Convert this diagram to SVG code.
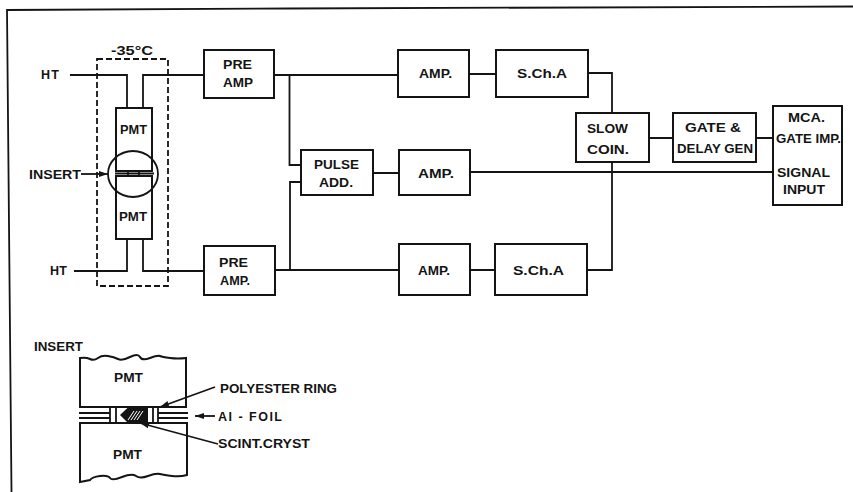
<svg xmlns="http://www.w3.org/2000/svg" width="853" height="492" viewBox="0 0 853 492">
<style>
.b{fill:#fff;stroke:#141414;stroke-width:2}
.c{fill:none;stroke:#141414;stroke-width:1.8}
.t{font-family:"Liberation Sans",Arial,sans-serif;font-size:12.500px;font-weight:700;fill:#141414;text-anchor:start}
</style>
<defs>
<marker id="a" markerWidth="10" markerHeight="7" refX="9" refY="3.500" orient="auto" markerUnits="userSpaceOnUse"><path d="M0 .5L9 3.500L0 6.500Z" fill="#141414"/></marker>
</defs>
<rect width="853" height="492" fill="#fff"/>
<path id="frame" class="c" d="M853 6.500L290 8.500L7 10L11.500 492"/>
<path id="cold-box" class="c" stroke-dasharray="6 3" d="M97 59H168V286H97Z"/>
<text class="t" x="111" y="55" textLength="42" lengthAdjust="spacingAndGlyphs">-35°C</text>
<text class="t" x="41" y="79" textLength="18" lengthAdjust="spacing">HT</text>
<text class="t" x="50" y="275" textLength="17" lengthAdjust="spacing">HT</text>
<text class="t" x="29" y="179" textLength="52" lengthAdjust="spacingAndGlyphs">INSERT</text>
<g id="pmt-top"><rect class="b" x="116" y="108" width="36" height="63"/><text class="t" x="120" y="134" textLength="27" lengthAdjust="spacingAndGlyphs">PMT</text></g>
<g id="pmt-bottom"><rect class="b" x="116" y="176" width="36" height="63"/><text class="t" x="119" y="221" textLength="28" lengthAdjust="spacingAndGlyphs">PMT</text></g>
<g id="insert-circle"><ellipse class="c" cx="133" cy="174" rx="25" ry="23" stroke-width="1.400"/><path class="c" stroke-width="1.200" d="M115 173.500H154M128 171.500V175.500M139 171.500V175.500"/></g>
<g id="preamp-top"><rect class="b" x="204" y="50" width="70" height="48"/><text class="t" x="223" y="69" textLength="29" lengthAdjust="spacingAndGlyphs">PRE</text><text class="t" x="223" y="87" textLength="30" lengthAdjust="spacingAndGlyphs">AMP</text></g>
<g id="preamp-bottom"><rect class="b" x="204" y="246" width="71" height="49"/><text class="t" x="219" y="267" textLength="29" lengthAdjust="spacingAndGlyphs">PRE</text><text class="t" x="220" y="285" textLength="30" lengthAdjust="spacingAndGlyphs">AMP.</text></g>
<g id="amp-top"><rect class="b" x="398" y="50" width="71" height="47"/><text class="t" x="419" y="78" textLength="33" lengthAdjust="spacingAndGlyphs">AMP.</text></g>
<g id="scha-top"><rect class="b" x="496" y="50" width="92" height="47"/><text class="t" x="517" y="78" textLength="50" lengthAdjust="spacingAndGlyphs">S.Ch.A</text></g>
<g id="pulse-add"><rect class="b" x="301" y="150" width="72" height="45"/><text class="t" x="314" y="169" textLength="45" lengthAdjust="spacingAndGlyphs">PULSE</text><text class="t" x="319" y="187" textLength="34" lengthAdjust="spacingAndGlyphs">ADD.</text></g>
<g id="amp-mid"><rect class="b" x="399" y="150" width="71" height="45"/><text class="t" x="418" y="178" textLength="36" lengthAdjust="spacingAndGlyphs">AMP.</text></g>
<g id="amp-bottom"><rect class="b" x="399" y="244" width="71" height="51"/><text class="t" x="418" y="275" textLength="32" lengthAdjust="spacingAndGlyphs">AMP.</text></g>
<g id="scha-bottom"><rect class="b" x="495" y="244" width="92" height="51"/><text class="t" x="513" y="275" textLength="51" lengthAdjust="spacingAndGlyphs">S.Ch.A</text></g>
<g id="slow-coin"><rect class="b" x="576" y="113" width="73" height="49"/><text class="t" x="587" y="133" textLength="41" lengthAdjust="spacingAndGlyphs">SLOW</text><text class="t" x="587" y="154" textLength="42" lengthAdjust="spacingAndGlyphs">COIN.</text></g>
<g id="gate-delay"><rect class="b" x="673" y="113" width="83" height="49"/><text class="t" x="685" y="132" textLength="56" lengthAdjust="spacingAndGlyphs">GATE &amp;</text><text class="t" x="677" y="153" textLength="76" lengthAdjust="spacingAndGlyphs">DELAY GEN</text></g>
<g id="mca"><rect class="b" x="773" y="106" width="69" height="99"/><text class="t" x="788" y="122" textLength="37" lengthAdjust="spacingAndGlyphs">MCA.</text><text class="t" x="776" y="143" textLength="65" lengthAdjust="spacingAndGlyphs">GATE IMP.</text><text class="t" x="777" y="177" textLength="53" lengthAdjust="spacingAndGlyphs">SIGNAL</text><text class="t" x="783" y="194" textLength="42" lengthAdjust="spacingAndGlyphs">INPUT</text></g>
<text class="t" x="34" y="351" textLength="49" lengthAdjust="spacingAndGlyphs">INSERT</text>
<g id="insert-pmt-top"><path class="b" d="M186 407H80V358Q86 357 90 359T98 358T108 356T118 359T130 357T140 357T150 358T160 356T170 358T186 358Z"/><text class="t" x="114" y="382" textLength="29" lengthAdjust="spacingAndGlyphs">PMT</text></g>
<g id="insert-pmt-bottom"><path class="b" d="M80 423H187V475Q180 477 172 476T160 474T148 476T136 476T122 477T110 478T100 476T90 480L80 482Z"/><text class="t" x="113" y="459" textLength="29" lengthAdjust="spacingAndGlyphs">PMT</text></g>
<g id="insert-foil">
<path class="c" stroke-width="1.300" d="M79 413H110M79 418H110M158 413H188M158 418H188M110 408V422M116 408V422M153 408V422M158 408V422"/>
<path d="M120 415L128 407.500H148V423H128Z" fill="#141414"/>
<path d="M128 420L134 411M131 420L137 411M134 420L140 411M137 420L143 411" stroke="#fff" stroke-width="1"/>
</g>
<text class="t" x="220" y="393" textLength="117" lengthAdjust="spacingAndGlyphs">POLYESTER RING</text>
<text class="t" x="218" y="421" textLength="64" lengthAdjust="spacing">AI - FOIL</text>
<text class="t" x="218" y="448" textLength="92" lengthAdjust="spacingAndGlyphs">SCINT.CRYST</text>
<g id="connectors">
<path class="c" d="M70 75H127V108M143 108V75H204"/>
<path class="c" d="M74 271H127V239M143 239V271H204"/>
<path class="c" d="M274 75H398M289.500 75V165H301M275 270H399M290 270V182H301"/>
<path class="c" d="M373 173H399M470 172H773M469 74H496M470 270H495"/>
<path class="c" d="M588 73H612V113M612 162V270H587M649 138H673M756 138H773"/>
<path class="c" d="M81 174H108" marker-end="url(#a)"/>
<path class="c" stroke-width="1.400" d="M215 387L160 407" marker-end="url(#a)"/>
<path class="c" stroke-width="1.400" d="M215 416H195" marker-end="url(#a)"/>
<path class="c" stroke-width="1.400" d="M218 444L140 423" marker-end="url(#a)"/>
</g>
</svg>
